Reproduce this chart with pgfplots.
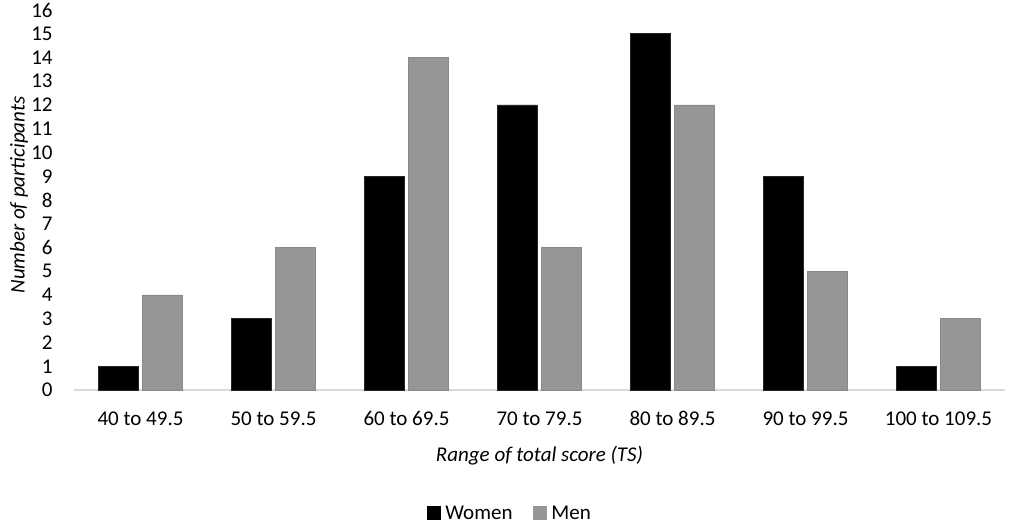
\documentclass[border=0pt]{standalone}
\usepackage{pgfplots}
\pgfplotsset{compat=1.18}
\usepackage{fontspec}
\setmainfont{Carlito}
\definecolor{mengray}{HTML}{969696}
\definecolor{menedge}{HTML}{8A8A8A}
\definecolor{axgray}{HTML}{D9D9D9}
\begin{document}
\fontsize{10.5}{12.6}\selectfont
\begin{tikzpicture}
\useasboundingbox (-37pt,-67pt) rectangle (469.5pt,195pt);
\begin{axis}[
  at={(0pt,0pt)}, anchor=south west,
  scale only axis,
  width=465.5pt, height=190pt,
  xmin=-0.5, xmax=6.5,
  ymin=0, ymax=16,
  ytick={0,1,...,16},
  xtick={0,1,2,3,4,5,6},
  xticklabels={40 to 49.5,50 to 59.5,60 to 69.5,70 to 79.5,80 to 89.5,90 to 99.5,100 to 109.5},
  axis y line*=left,
  axis x line*=bottom,
  y axis line style={draw=none},
  x axis line style={axgray, line width=1pt, -},
  major tick length=0pt,
  tick style={draw=none},
  /pgf/number format/assume math mode=true,
  ticklabel style={font=\fontsize{10.5}{12.6}\selectfont},
  yticklabel style={anchor=east, xshift=-7pt},
  xticklabel style={anchor=center, yshift=-14.3pt},
  ybar, bar width=19.8pt,
  clip=false,
]
\addplot[fill=black, draw=black!85, line width=0.4pt, bar shift=-11pt] coordinates {(0,1) (1,3) (2,9) (3,12) (4,15) (5,9) (6,1)};
\addplot[fill=mengray, draw=menedge, line width=0.4pt, bar shift=11pt] coordinates {(0,4) (1,6) (2,14) (3,6) (4,12) (5,5) (6,3)};
\end{axis}
\node[rotate=90, font=\itshape\fontsize{10.5}{12.6}\selectfont] at (-27.5pt,97.5pt) {Number of participants};
\node[font=\itshape\fontsize{10.5}{12.6}\selectfont] at (232.75pt,-33pt) {Range of total score (TS)};
\fill[black] (176.5pt,-65pt) rectangle (183.5pt,-58pt);
\node[anchor=west, inner sep=0pt] at (185.5pt,-61.5pt) {Women};
\fill[mengray] (229.5pt,-65pt) rectangle (236.5pt,-58pt);
\node[anchor=west, inner sep=0pt] at (238.5pt,-61.5pt) {Men};
\end{tikzpicture}
\end{document}
